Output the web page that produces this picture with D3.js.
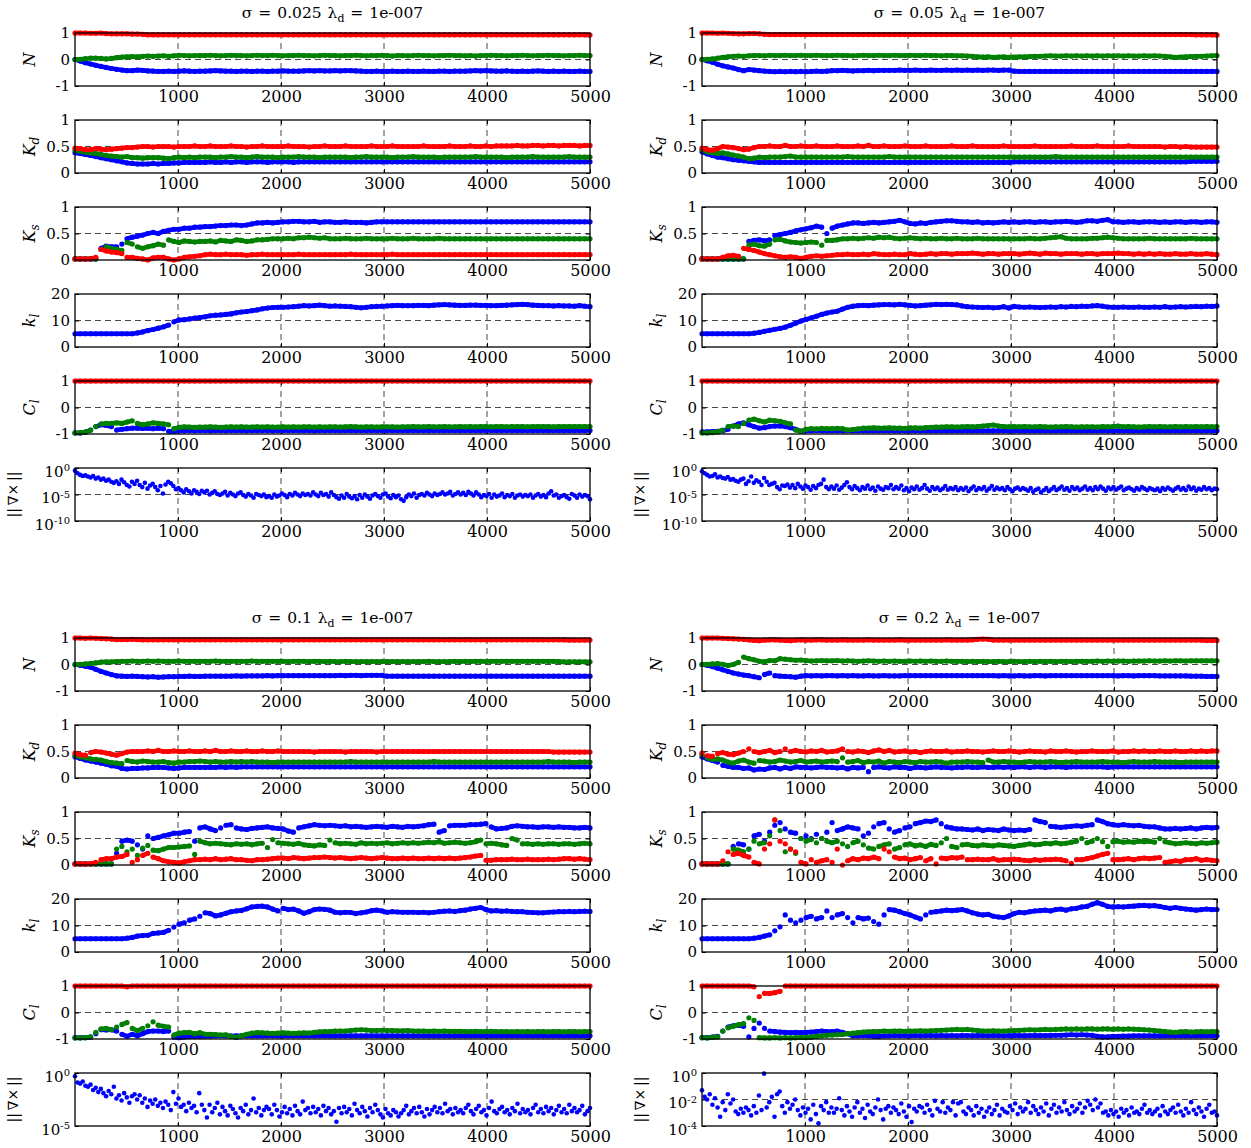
<!DOCTYPE html>
<html>
<head>
<meta charset="utf-8">
<script src="https://cdn.jsdelivr.net/npm/d3@7"></script>
<style>
  body { margin: 0; background: #fff; }
  text { font-family: "DejaVu Serif", serif; fill: #000; }
</style>
</head>
<body>
<svg id="chart" width="1251" height="1148"></svg>
<script>
// iterations at which the estimates were recorded
const iterations = d3.range(100).map(i => Math.round(i * 5000 / 99));
const gradIterations = d3.range(200).map(i => Math.round(i * 5000 / 199));
const xTicks = [1000, 2000, 3000, 4000, 5000];
const sigmas = ["0.025", "0.05", "0.1", "0.2"];

// ---------- sigma = 0.025 ----------
const nRedA = [1,1,1,0.99,0.99,1,0.98,0.97,0.97,0.97,0.97,0.96,0.96,0.95,0.93,0.93,0.93,0.93,0.93,0.93,0.93,0.93,0.93,0.93,0.93,
  0.93,0.93,0.93,0.93,0.93,0.93,0.93,0.93,0.93,0.93,0.93,0.93,0.93,0.93,0.93,0.93,0.93,0.93,0.93,0.93,0.93,0.93,0.93,0.93,0.93,
  0.93,0.93,0.93,0.93,0.93,0.93,0.93,0.93,0.93,0.93,0.93,0.93,0.93,0.93,0.93,0.93,0.93,0.93,0.93,0.93,0.93,0.93,0.93,0.93,0.93,
  0.93,0.93,0.93,0.93,0.93,0.93,0.93,0.93,0.93,0.93,0.93,0.93,0.93,0.93,0.93,0.93,0.93,0.93,0.93,0.93,0.93,0.93,0.93,0.93,0.92];
const nGreenA = [0,0.01,0.03,0.05,0.05,0.04,0.02,0.04,0.07,0.09,0.1,0.11,0.1,0.12,0.13,0.12,0.13,0.14,0.12,0.14,0.16,0.15,0.14,0.15,0.15,
  0.15,0.16,0.15,0.14,0.15,0.16,0.15,0.15,0.14,0.15,0.16,0.15,0.15,0.16,0.15,0.14,0.15,0.15,0.16,0.15,0.15,0.14,0.15,0.16,0.15,
  0.15,0.14,0.15,0.15,0.16,0.15,0.14,0.15,0.15,0.16,0.15,0.13,0.15,0.15,0.14,0.15,0.16,0.15,0.15,0.14,0.15,0.15,0.16,0.15,0.15,
  0.14,0.15,0.13,0.15,0.15,0.16,0.15,0.15,0.14,0.15,0.15,0.16,0.15,0.14,0.15,0.15,0.16,0.15,0.15,0.14,0.15,0.15,0.16,0.15,0.15];
const nBlueA = [0,-0.06,-0.12,-0.17,-0.22,-0.26,-0.3,-0.34,-0.37,-0.4,-0.42,-0.42,-0.4,-0.41,-0.43,-0.44,-0.45,-0.45,-0.44,-0.45,-0.44,-0.43,-0.44,-0.45,-0.44,
  -0.44,-0.43,-0.42,-0.43,-0.44,-0.44,-0.45,-0.44,-0.44,-0.45,-0.44,-0.44,-0.45,-0.44,-0.44,-0.43,-0.44,-0.44,-0.44,-0.43,-0.42,-0.43,-0.42,-0.43,-0.43,
  -0.42,-0.43,-0.42,-0.42,-0.43,-0.44,-0.45,-0.45,-0.44,-0.45,-0.45,-0.44,-0.45,-0.45,-0.44,-0.45,-0.45,-0.44,-0.45,-0.45,-0.44,-0.44,-0.45,-0.44,-0.44,
  -0.44,-0.43,-0.42,-0.43,-0.42,-0.43,-0.44,-0.44,-0.43,-0.44,-0.45,-0.44,-0.45,-0.44,-0.43,-0.44,-0.45,-0.44,-0.45,-0.44,-0.45,-0.45,-0.44,-0.45,-0.45];
const kdRedA = [0.47,0.46,0.44,0.44,0.46,0.45,0.44,0.45,0.46,0.47,0.48,0.48,0.49,0.5,0.5,0.49,0.5,0.5,0.5,0.49,0.5,0.5,0.5,0.51,0.5,
  0.5,0.51,0.5,0.5,0.5,0.51,0.5,0.5,0.49,0.5,0.5,0.51,0.5,0.5,0.5,0.5,0.51,0.5,0.5,0.5,0.49,0.5,0.5,0.51,0.5,
  0.5,0.5,0.51,0.5,0.5,0.5,0.5,0.51,0.5,0.5,0.5,0.51,0.5,0.5,0.5,0.5,0.5,0.51,0.5,0.5,0.5,0.5,0.51,0.5,0.5,
  0.5,0.51,0.5,0.5,0.51,0.5,0.51,0.51,0.51,0.51,0.52,0.51,0.51,0.52,0.52,0.51,0.52,0.52,0.51,0.52,0.52,0.52,0.51,0.52,0.52];
const kdGreenA = [0.43,0.41,0.39,0.38,0.37,0.35,0.33,0.32,0.31,0.3,0.31,0.29,0.29,0.28,0.29,0.29,0.29,0.28,0.27,0.29,0.3,0.29,0.3,0.29,0.3,
  0.3,0.3,0.29,0.3,0.3,0.31,0.3,0.3,0.29,0.3,0.31,0.3,0.3,0.3,0.29,0.3,0.3,0.3,0.31,0.3,0.3,0.3,0.29,0.3,0.3,
  0.3,0.3,0.3,0.29,0.3,0.3,0.31,0.3,0.3,0.3,0.3,0.29,0.3,0.3,0.3,0.31,0.3,0.3,0.3,0.3,0.29,0.3,0.3,0.3,0.3,
  0.3,0.3,0.31,0.3,0.3,0.3,0.3,0.3,0.29,0.3,0.3,0.3,0.3,0.31,0.3,0.3,0.3,0.3,0.3,0.3,0.31,0.3,0.3,0.3,0.3];
const kdBlueA = [0.38,0.37,0.35,0.33,0.31,0.29,0.27,0.25,0.23,0.21,0.19,0.18,0.17,0.17,0.17,0.18,0.17,0.18,0.18,0.19,0.19,0.2,0.2,0.2,0.2,
  0.2,0.21,0.2,0.2,0.21,0.2,0.21,0.21,0.2,0.21,0.21,0.21,0.2,0.21,0.21,0.21,0.21,0.2,0.21,0.21,0.21,0.21,0.21,0.21,0.21,
  0.21,0.21,0.21,0.21,0.21,0.21,0.21,0.21,0.21,0.21,0.21,0.21,0.21,0.21,0.21,0.21,0.21,0.21,0.21,0.21,0.21,0.21,0.21,0.21,0.21,
  0.21,0.21,0.21,0.21,0.21,0.21,0.21,0.21,0.21,0.21,0.21,0.21,0.21,0.21,0.21,0.21,0.21,0.21,0.21,0.21,0.21,0.21,0.21,0.21,0.21];
const ksRedA = [0.02,0.02,0.02,0.02,0.05,0.2,0.17,0.15,0.14,0.12,0.05,0.05,0.03,0.02,0,0.04,0.05,0.05,0.02,0,0.02,0.05,0.06,0.07,0.08,
  0.1,0.11,0.1,0.1,0.11,0.1,0.1,0.1,0.09,0.1,0.1,0.11,0.1,0.1,0.1,0.1,0.1,0.1,0.11,0.1,0.1,0.1,0.1,0.1,0.1,
  0.1,0.1,0.1,0.11,0.1,0.1,0.1,0.1,0.1,0.1,0.1,0.11,0.1,0.1,0.1,0.1,0.1,0.1,0.1,0.1,0.1,0.1,0.1,0.1,0.1,
  0.1,0.1,0.1,0.1,0.1,0.1,0.1,0.1,0.1,0.1,0.1,0.1,0.1,0.1,0.1,0.1,0.1,0.1,0.1,0.1,0.1,0.1,0.1,0.1,0.1];
const ksGreenA = [0.02,0.02,0.02,0.02,0.02,0.2,0.25,0.22,0.2,0.18,0.33,0.3,0.25,0.22,0.25,0.27,0.3,0.28,0.38,0.35,0.33,0.36,0.35,0.34,0.35,
  0.35,0.36,0.34,0.37,0.36,0.35,0.38,0.37,0.35,0.36,0.38,0.38,0.39,0.4,0.4,0.4,0.41,0.4,0.42,0.42,0.43,0.42,0.41,0.42,0.4,
  0.4,0.4,0.41,0.4,0.4,0.4,0.41,0.4,0.4,0.4,0.4,0.41,0.4,0.4,0.4,0.41,0.4,0.4,0.4,0.4,0.41,0.4,0.4,0.4,0.4,
  0.4,0.4,0.4,0.4,0.4,0.4,0.4,0.4,0.4,0.4,0.4,0.4,0.4,0.4,0.4,0.4,0.4,0.4,0.4,0.4,0.4,0.4,0.4,0.4,0.4];
const ksBlueA = [0.02,0.02,0.02,0.02,0.02,0.22,0.26,0.25,0.25,0.3,0.4,0.43,0.45,0.47,0.5,0.52,0.5,0.54,0.56,0.58,0.58,0.6,0.6,0.62,0.62,
  0.63,0.63,0.64,0.65,0.65,0.66,0.66,0.65,0.66,0.68,0.7,0.7,0.71,0.7,0.71,0.72,0.72,0.73,0.73,0.72,0.72,0.73,0.71,0.72,0.72,
  0.71,0.71,0.72,0.71,0.71,0.71,0.7,0.71,0.72,0.72,0.72,0.72,0.72,0.72,0.72,0.72,0.72,0.72,0.72,0.72,0.72,0.72,0.72,0.72,0.72,
  0.72,0.72,0.72,0.72,0.72,0.72,0.72,0.72,0.72,0.72,0.72,0.72,0.72,0.72,0.72,0.72,0.72,0.72,0.72,0.72,0.72,0.72,0.72,0.72,0.72];
const klA = [5,5,5,5,5,5,5,5,5,5,5,5,5.3,5.7,6.2,6.6,7.1,7.6,8.3,9.5,10.2,10.3,10.6,10.9,11.1,
  11.4,11.8,12,12.1,12.3,12.5,12.9,13.2,13.4,13.7,14,14.4,14.7,14.9,15,15,15.1,15.2,15.4,15.6,15.5,15.6,15.8,15.6,15.4,
  15.5,15.4,15.3,15.2,15,14.8,15,15.2,15.3,15.4,15.5,15.6,15.7,15.6,15.6,15.6,15.7,15.7,15.6,15.8,15.9,16,15.9,15.8,15.7,
  15.7,15.8,15.8,15.7,15.7,15.6,15.6,15.7,15.8,15.9,16,16.1,16,15.8,15.7,15.6,15.6,15.5,15.6,15.5,15.5,15.4,15.6,15.4,15.2];
const clRedA = [1,1,1,1,1,1,1,1,1,1,1,1,1,1,1,1,1,1,1,1,1,1,1,1,1,
  1,1,1,1,1,1,1,1,1,1,1,1,1,1,1,1,1,1,1,1,1,1,1,1,1,
  1,1,1,1,1,1,1,1,1,1,1,1,1,1,1,1,1,1,1,1,1,1,1,1,1,
  1,1,1,1,1,1,1,1,1,1,1,1,1,1,1,1,1,1,1,1,1,1,1,1,1];
const clGreenA = [-0.96,-0.95,-0.93,-0.85,-0.72,-0.62,-0.6,-0.6,-0.58,-0.6,-0.55,-0.5,-0.6,-0.65,-0.62,-0.58,-0.6,-0.62,-0.65,-0.8,-0.75,-0.73,-0.74,-0.75,-0.74,
  -0.74,-0.73,-0.74,-0.75,-0.74,-0.73,-0.74,-0.73,-0.74,-0.74,-0.73,-0.74,-0.73,-0.74,-0.74,-0.73,-0.74,-0.73,-0.74,-0.73,-0.73,-0.74,-0.73,-0.74,-0.73,
  -0.73,-0.74,-0.73,-0.72,-0.73,-0.74,-0.73,-0.73,-0.74,-0.73,-0.73,-0.73,-0.74,-0.73,-0.73,-0.72,-0.73,-0.73,-0.72,-0.73,-0.73,-0.72,-0.73,-0.73,-0.72,
  -0.73,-0.72,-0.73,-0.72,-0.72,-0.73,-0.72,-0.72,-0.73,-0.72,-0.72,-0.72,-0.73,-0.72,-0.72,-0.72,-0.72,-0.73,-0.72,-0.72,-0.72,-0.72,-0.72,-0.72,-0.72];
const clBlueA = [-0.96,-0.96,-0.93,-0.85,-0.72,-0.65,-0.68,-0.72,-0.85,-0.82,-0.8,-0.78,-0.78,-0.79,-0.78,-0.8,-0.78,-0.8,-0.9,-0.9,-0.88,-0.88,-0.87,-0.88,-0.87,
  -0.87,-0.88,-0.87,-0.87,-0.88,-0.87,-0.87,-0.87,-0.88,-0.87,-0.87,-0.87,-0.87,-0.88,-0.87,-0.87,-0.87,-0.87,-0.87,-0.87,-0.87,-0.88,-0.87,-0.87,-0.87,
  -0.87,-0.87,-0.87,-0.87,-0.87,-0.87,-0.87,-0.87,-0.87,-0.87,-0.87,-0.87,-0.87,-0.87,-0.87,-0.87,-0.87,-0.87,-0.87,-0.87,-0.87,-0.87,-0.87,-0.87,-0.87,
  -0.87,-0.87,-0.87,-0.87,-0.87,-0.87,-0.87,-0.87,-0.87,-0.87,-0.87,-0.87,-0.87,-0.87,-0.87,-0.87,-0.87,-0.87,-0.87,-0.87,-0.87,-0.87,-0.87,-0.87,-0.87];
// log10 of the gradient norm
const gradExpA = [-0.5,-1,-1.3,-1.5,-1.4,-1.6,-1.8,-1.5,-2,-1.8,-2.2,-2,-2.4,-2.2,-2.6,-2.8,-2.5,-3,-2.2,-2.7,-3.2,-3.5,-2.6,-3,-2.4,
  -3.2,-3.6,-2.8,-3.9,-3.3,-3,-3.6,-4.2,-3.4,-4.8,-3.1,-2.6,-2.9,-3.4,-4,-3.8,-4.2,-4.6,-4,-4.4,-4.8,-4.2,-4.5,-4.9,-4.3,
  -4.6,-4.3,-5,-4.7,-4.4,-4.9,-5.1,-4.8,-4.5,-5.2,-4.7,-5,-5.3,-4.8,-4.6,-5.1,-5.4,-4.9,-5.2,-5.6,-4.9,-5.1,-5.3,-5,-5.5,
  -5.3,-5.6,-5,-5.4,-5.2,-4.8,-5.1,-5.5,-4.9,-5.2,-4.7,-5,-5.3,-4.8,-5.1,-4.9,-5.2,-4.6,-5,-5.3,-4.7,-5.1,-4.9,-5.4,-4.6,
  -5.1,-5.5,-5.8,-5.2,-5.6,-4.9,-5.4,-5.7,-5.3,-5.9,-5.1,-5.6,-5,-5.4,-5.8,-5.2,-4.9,-5.3,-5.6,-5,-4.8,-5.4,-5.7,-5.1,-5.5,
  -5.2,-5.9,-6.2,-5.5,-5,-5.3,-4.8,-5.6,-5.1,-4.9,-5.2,-4.7,-5,-5.3,-4.8,-5.1,-4.9,-4.6,-5,-4.8,-4.5,-5.2,-4.9,-4.6,-5,
  -4.7,-5.1,-4.5,-4.8,-5.2,-4.6,-5,-5.5,-5.1,-5.3,-4.9,-5.6,-5,-5.4,-5.2,-4.8,-5.5,-5.1,-5.3,-4.9,-5.6,-5.2,-5,-5.4,-5.1,
  -5.3,-5,-5.6,-5.2,-4.9,-5.4,-5.1,-5.5,-4.8,-4.4,-5.2,-5,-5.6,-5.3,-5.1,-5.5,-5.8,-4.9,-5.2,-5.6,-5,-5.4,-5.1,-5.3,-5.9];

// ---------- sigma = 0.05 ----------
const nRedB = [1,1,1,0.99,1,0.99,0.98,0.97,0.97,0.98,0.98,0.97,0.95,0.94,0.94,0.94,0.94,0.94,0.94,0.94,0.94,0.94,0.94,0.94,0.94,
  0.94,0.94,0.94,0.94,0.94,0.94,0.94,0.94,0.94,0.94,0.94,0.94,0.94,0.94,0.94,0.94,0.94,0.94,0.94,0.94,0.94,0.94,0.94,0.94,0.94,
  0.94,0.94,0.94,0.94,0.94,0.94,0.94,0.94,0.94,0.94,0.94,0.94,0.94,0.94,0.94,0.94,0.94,0.94,0.94,0.94,0.94,0.94,0.94,0.94,0.94,
  0.94,0.94,0.94,0.94,0.94,0.94,0.94,0.94,0.94,0.94,0.94,0.94,0.94,0.94,0.94,0.94,0.94,0.94,0.94,0.94,0.93,0.93,0.93,0.93,0.92];
const nGreenB = [0,0.01,0.02,0.05,0.08,0.1,0.12,0.13,0.12,0.14,0.15,0.15,0.14,0.16,0.15,0.15,0.16,0.15,0.15,0.16,0.15,0.15,0.16,0.15,0.15,
  0.15,0.16,0.15,0.15,0.14,0.15,0.16,0.15,0.15,0.16,0.15,0.15,0.16,0.15,0.15,0.16,0.15,0.15,0.16,0.15,0.15,0.14,0.15,0.15,0.14,
  0.14,0.13,0.12,0.1,0.09,0.1,0.08,0.09,0.1,0.08,0.09,0.1,0.1,0.11,0.12,0.12,0.13,0.14,0.13,0.13,0.14,0.13,0.14,0.13,0.14,
  0.13,0.14,0.13,0.14,0.13,0.14,0.13,0.14,0.13,0.13,0.14,0.13,0.14,0.13,0.12,0.1,0.08,0.09,0.1,0.11,0.12,0.12,0.13,0.14,0.15];
const nBlueB = [0,-0.05,-0.1,-0.18,-0.24,-0.28,-0.32,-0.38,-0.42,-0.38,-0.4,-0.42,-0.44,-0.45,-0.46,-0.45,-0.46,-0.45,-0.46,-0.45,-0.46,-0.45,-0.44,-0.45,-0.44,
  -0.42,-0.42,-0.41,-0.42,-0.43,-0.42,-0.42,-0.41,-0.42,-0.41,-0.41,-0.41,-0.41,-0.4,-0.41,-0.41,-0.4,-0.41,-0.41,-0.4,-0.41,-0.41,-0.4,-0.41,-0.4,
  -0.41,-0.4,-0.41,-0.4,-0.41,-0.4,-0.4,-0.41,-0.4,-0.4,-0.44,-0.45,-0.45,-0.45,-0.45,-0.45,-0.45,-0.45,-0.45,-0.45,-0.45,-0.45,-0.45,-0.45,-0.45,
  -0.45,-0.45,-0.45,-0.45,-0.45,-0.45,-0.45,-0.45,-0.45,-0.45,-0.45,-0.45,-0.45,-0.45,-0.45,-0.45,-0.45,-0.45,-0.45,-0.45,-0.45,-0.45,-0.45,-0.45,-0.45];
const kdRedB = [0.47,0.44,0.43,0.46,0.5,0.49,0.48,0.46,0.44,0.45,0.48,0.5,0.5,0.51,0.5,0.5,0.52,0.5,0.5,0.51,0.5,0.5,0.51,0.5,0.5,
  0.5,0.51,0.5,0.5,0.5,0.51,0.5,0.52,0.5,0.5,0.51,0.5,0.5,0.5,0.51,0.5,0.5,0.5,0.51,0.5,0.5,0.5,0.5,0.51,0.5,
  0.5,0.5,0.51,0.5,0.5,0.5,0.5,0.5,0.51,0.5,0.5,0.5,0.5,0.5,0.51,0.5,0.5,0.5,0.5,0.5,0.5,0.51,0.5,0.5,0.5,
  0.5,0.51,0.5,0.5,0.5,0.5,0.5,0.51,0.5,0.5,0.5,0.5,0.5,0.5,0.49,0.5,0.5,0.49,0.5,0.49,0.49,0.49,0.49,0.49,0.49];
const kdGreenB = [0.44,0.4,0.38,0.37,0.38,0.36,0.34,0.32,0.3,0.27,0.28,0.3,0.29,0.3,0.3,0.3,0.31,0.32,0.3,0.3,0.3,0.3,0.3,0.3,0.3,
  0.3,0.3,0.3,0.31,0.3,0.3,0.3,0.3,0.3,0.3,0.3,0.31,0.3,0.3,0.3,0.3,0.3,0.3,0.3,0.3,0.3,0.3,0.3,0.3,0.3,
  0.3,0.3,0.3,0.3,0.3,0.3,0.3,0.3,0.3,0.3,0.3,0.3,0.3,0.3,0.3,0.3,0.3,0.3,0.31,0.3,0.3,0.3,0.3,0.3,0.3,
  0.3,0.3,0.3,0.3,0.3,0.3,0.3,0.3,0.3,0.3,0.3,0.3,0.3,0.3,0.3,0.3,0.3,0.3,0.3,0.3,0.3,0.3,0.3,0.3,0.3];
const kdBlueB = [0.4,0.36,0.33,0.3,0.29,0.27,0.25,0.24,0.23,0.22,0.21,0.2,0.2,0.2,0.2,0.2,0.2,0.2,0.2,0.2,0.2,0.2,0.2,0.2,0.2,
  0.2,0.2,0.2,0.2,0.2,0.2,0.2,0.2,0.2,0.2,0.2,0.2,0.2,0.2,0.2,0.2,0.2,0.2,0.2,0.2,0.2,0.2,0.2,0.2,0.2,
  0.2,0.2,0.2,0.2,0.2,0.2,0.2,0.2,0.2,0.2,0.21,0.21,0.21,0.21,0.21,0.21,0.21,0.21,0.21,0.21,0.21,0.21,0.21,0.21,0.21,
  0.21,0.21,0.21,0.21,0.21,0.21,0.21,0.21,0.21,0.21,0.21,0.21,0.21,0.21,0.21,0.21,0.21,0.21,0.21,0.22,0.22,0.22,0.22,0.22,0.22];
const ksRedB = [0.02,0.02,0.02,0.02,0.05,0.08,0.09,0.07,0.22,0.2,0.18,0.15,0.12,0.1,0.08,0.06,0.05,0.06,0.05,0.03,0.05,0.07,0.08,0.07,0.08,
  0.09,0.1,0.1,0.11,0.1,0.1,0.11,0.1,0.12,0.11,0.1,0.1,0.11,0.1,0.1,0.12,0.11,0.1,0.11,0.12,0.11,0.12,0.12,0.11,0.12,
  0.12,0.12,0.13,0.12,0.11,0.12,0.12,0.11,0.12,0.12,0.12,0.11,0.12,0.13,0.12,0.11,0.13,0.12,0.12,0.11,0.12,0.12,0.12,0.11,0.12,
  0.12,0.11,0.12,0.12,0.12,0.13,0.12,0.12,0.11,0.12,0.11,0.12,0.11,0.12,0.11,0.11,0.12,0.11,0.11,0.12,0.11,0.11,0.12,0.11,0.1];
const ksGreenB = [0.02,0.02,0.02,0.02,0.02,0.02,0.02,0.02,0.02,0.28,0.3,0.27,0.26,0.3,0.38,0.39,0.36,0.34,0.33,0.32,0.33,0.34,0.33,0.28,0.37,
  0.37,0.38,0.4,0.4,0.41,0.4,0.41,0.42,0.41,0.43,0.42,0.43,0.41,0.4,0.41,0.42,0.41,0.4,0.41,0.4,0.4,0.41,0.4,0.4,0.41,
  0.4,0.4,0.4,0.41,0.4,0.4,0.4,0.4,0.4,0.4,0.4,0.4,0.4,0.41,0.4,0.4,0.41,0.42,0.43,0.44,0.41,0.4,0.4,0.4,0.4,
  0.41,0.41,0.42,0.43,0.42,0.41,0.4,0.4,0.4,0.4,0.4,0.41,0.4,0.4,0.4,0.4,0.4,0.4,0.4,0.41,0.4,0.4,0.4,0.4,0.4];
const ksBlueB = [0.02,0.02,0.02,0.02,0.02,0.02,0.02,0.02,0.02,0.35,0.37,0.38,0.36,0.38,0.46,0.48,0.5,0.52,0.55,0.57,0.59,0.61,0.64,0.62,0.5,
  0.6,0.64,0.66,0.68,0.7,0.7,0.69,0.7,0.71,0.7,0.71,0.72,0.73,0.75,0.72,0.69,0.68,0.7,0.69,0.71,0.72,0.73,0.74,0.74,0.73,
  0.72,0.72,0.71,0.72,0.7,0.71,0.7,0.71,0.72,0.71,0.72,0.71,0.72,0.72,0.71,0.72,0.72,0.71,0.72,0.72,0.73,0.72,0.71,0.72,0.74,
  0.74,0.73,0.75,0.76,0.72,0.72,0.71,0.72,0.72,0.71,0.72,0.72,0.72,0.71,0.72,0.71,0.72,0.72,0.71,0.72,0.72,0.71,0.72,0.72,0.71];
const klB = [5,5,5,5,5,5,5,5,5,5,5.2,5.5,5.9,6.3,6.7,7,7.5,8.2,9,9.8,10.4,11,11.6,12.3,12.8,
  13.2,13.5,14.3,15,15.4,15.6,15.7,15.6,15.8,15.9,16,16,15.9,16.1,15.9,15.7,15.5,15.6,15.8,15.9,16.1,16,16.1,16,15.9,
  15.5,15.2,15.1,15,14.9,15,14.8,14.9,15.2,14.7,15.3,15.1,15,15.1,15,14.9,15,15.1,15,15.2,15.1,15.3,15.2,15.4,15.3,
  15.5,15.6,15.4,15.1,15,15,15.1,15,15,15.1,15,15,15.1,15,15.2,15,15.1,15.2,15.1,15.2,15.3,15.2,15.4,15.3,15.5];
const clRedB = [1,1,1,1,1,1,1,1,1,1,1,1,1,1,1,1,1,1,1,1,1,1,1,1,1,
  1,1,1,1,1,1,1,1,1,1,1,1,1,1,1,1,1,1,1,1,1,1,1,1,1,
  1,1,1,1,1,1,1,1,1,1,1,1,1,1,1,1,1,1,1,1,1,1,1,1,1,
  1,1,1,1,1,1,1,1,1,1,1,1,1,1,1,1,1,1,1,1,1,1,1,1,1];
const clGreenB = [-0.96,-0.96,-0.95,-0.92,-0.85,-0.72,-0.7,-0.72,-0.6,-0.48,-0.44,-0.5,-0.55,-0.48,-0.5,-0.52,-0.58,-0.62,-0.85,-0.9,-0.82,-0.8,-0.81,-0.79,-0.8,
  -0.8,-0.79,-0.8,-0.85,-0.83,-0.81,-0.78,-0.78,-0.77,-0.78,-0.78,-0.77,-0.78,-0.78,-0.79,-0.77,-0.77,-0.78,-0.76,-0.75,-0.74,-0.74,-0.73,-0.73,-0.74,
  -0.73,-0.72,-0.73,-0.72,-0.7,-0.68,-0.66,-0.7,-0.72,-0.73,-0.72,-0.73,-0.72,-0.73,-0.73,-0.72,-0.73,-0.74,-0.73,-0.73,-0.72,-0.73,-0.74,-0.73,-0.73,
  -0.73,-0.74,-0.72,-0.73,-0.72,-0.7,-0.73,-0.72,-0.73,-0.74,-0.73,-0.72,-0.73,-0.72,-0.73,-0.73,-0.72,-0.73,-0.72,-0.73,-0.72,-0.73,-0.72,-0.73,-0.72];
const clBlueB = [-0.92,-0.92,-0.91,-0.9,-0.88,-0.82,-0.7,-0.62,-0.58,-0.65,-0.72,-0.78,-0.76,-0.72,-0.7,-0.7,-0.72,-0.76,-0.82,-0.9,-0.88,-0.88,-0.87,-0.88,-0.88,
  -0.88,-0.88,-0.88,-0.88,-0.88,-0.88,-0.88,-0.88,-0.88,-0.88,-0.88,-0.88,-0.88,-0.88,-0.88,-0.88,-0.88,-0.88,-0.88,-0.88,-0.88,-0.88,-0.88,-0.88,-0.88,
  -0.88,-0.88,-0.88,-0.88,-0.88,-0.88,-0.88,-0.88,-0.88,-0.88,-0.88,-0.88,-0.88,-0.88,-0.88,-0.88,-0.88,-0.88,-0.88,-0.88,-0.88,-0.88,-0.88,-0.88,-0.88,
  -0.88,-0.88,-0.88,-0.88,-0.88,-0.88,-0.88,-0.88,-0.88,-0.88,-0.88,-0.88,-0.88,-0.88,-0.88,-0.88,-0.88,-0.88,-0.88,-0.88,-0.88,-0.88,-0.88,-0.88,-0.88];
const gradExpB = [-0.6,-1,-1.3,-1.6,-1.5,-1.2,-1.8,-1.6,-1.9,-2,-1.7,-2.2,-2.1,-2.4,-2.6,-2.2,-2,-3,-2.5,-1.6,-2.8,-2.3,-2.6,-3.2,-1.9,
  -2.6,-3.2,-3,-2.8,-3.6,-4,-3.3,-3.4,-3.1,-3.7,-3.2,-3.8,-3,-3.5,-3.9,-3.3,-3.6,-4.1,-3.4,-3.8,-3.2,-3,-2.2,-3.6,-4,
  -3.5,-3.9,-3.3,-4.1,-3.7,-3.2,-2.7,-3.6,-4,-3.4,-3.8,-4.2,-3.6,-3.9,-3.3,-4,-3.7,-4.3,-3.5,-3.9,-4.1,-3.6,-3.8,-3.2,-4,
  -3.6,-3.9,-3.3,-4.2,-3.8,-4.4,-3.7,-4,-3.5,-4.1,-3.8,-3.2,-3.9,-4.3,-3.6,-4,-3.7,-4.2,-3.9,-3.4,-4.1,-3.8,-4,-3.6,-4.2,
  -3.8,-4.1,-3.7,-4.4,-3.9,-3.5,-4.2,-3.8,-4,-3.6,-4.3,-3.9,-3.4,-4.1,-3.7,-4,-3.8,-4.2,-3.6,-4,-4.4,-3.9,-3.7,-4.1,-3.8,
  -4,-4.3,-3.8,-4.5,-4.1,-3.9,-4.6,-4.2,-3.8,-4.4,-4,-3.6,-4.2,-3.9,-3.5,-4.1,-3.8,-4.3,-3.6,-4,-3.7,-4.2,-3.9,-3.5,-4.1,
  -3.8,-4.2,-3.6,-4,-3.5,-3.9,-4.3,-3.7,-4,-3.6,-4.1,-3.8,-3.5,-4.2,-3.9,-3.7,-4,-4.3,-3.8,-4.1,-3.6,-3.9,-4.2,-3.8,-4,
  -4.2,-3.9,-4.4,-3.8,-4.1,-3.7,-4,-4.3,-3.9,-3.6,-4.1,-3.8,-4.2,-3.5,-4,-3.7,-4.3,-3.9,-4.1,-3.6,-4,-3.8,-4.2,-3.9,-4];

// ---------- sigma = 0.1 ----------
const nRedC = [1,1,0.99,1,0.99,0.98,0.97,0.96,0.94,0.94,0.94,0.95,0.94,0.93,0.93,0.93,0.93,0.93,0.93,0.93,0.93,0.93,0.93,0.93,0.93,
  0.93,0.93,0.93,0.93,0.93,0.93,0.93,0.93,0.93,0.93,0.93,0.93,0.93,0.93,0.93,0.93,0.93,0.93,0.93,0.93,0.93,0.93,0.93,0.93,0.93,
  0.93,0.93,0.93,0.93,0.93,0.93,0.93,0.93,0.93,0.93,0.93,0.93,0.93,0.93,0.93,0.93,0.93,0.93,0.93,0.93,0.93,0.93,0.93,0.93,0.93,
  0.93,0.93,0.93,0.93,0.93,0.93,0.93,0.93,0.93,0.93,0.93,0.93,0.93,0.93,0.93,0.93,0.93,0.93,0.93,0.93,0.92,0.92,0.92,0.92,0.92];
const nGreenC = [0,0.01,0.02,0.04,0.06,0.09,0.1,0.1,0.11,0.12,0.12,0.13,0.12,0.12,0.13,0.12,0.13,0.12,0.12,0.12,0.13,0.12,0.12,0.12,0.12,
  0.12,0.12,0.13,0.12,0.12,0.12,0.12,0.12,0.12,0.13,0.12,0.12,0.12,0.12,0.12,0.12,0.11,0.12,0.12,0.12,0.11,0.12,0.12,0.11,0.12,
  0.11,0.11,0.12,0.11,0.11,0.11,0.11,0.11,0.11,0.11,0.11,0.11,0.11,0.11,0.11,0.11,0.11,0.11,0.12,0.11,0.11,0.11,0.11,0.12,0.11,
  0.12,0.11,0.12,0.12,0.11,0.12,0.12,0.12,0.12,0.12,0.12,0.12,0.12,0.12,0.12,0.12,0.12,0.12,0.11,0.1,0.1,0.1,0.1,0.1,0.1];
const nBlueC = [0,-0.03,-0.07,-0.1,-0.18,-0.26,-0.32,-0.38,-0.43,-0.44,-0.45,-0.44,-0.45,-0.46,-0.47,-0.46,-0.48,-0.47,-0.46,-0.46,-0.45,-0.45,-0.44,-0.45,-0.45,
  -0.44,-0.44,-0.44,-0.44,-0.44,-0.44,-0.43,-0.44,-0.43,-0.43,-0.43,-0.43,-0.42,-0.43,-0.42,-0.42,-0.42,-0.42,-0.42,-0.42,-0.42,-0.42,-0.42,-0.42,-0.42,
  -0.42,-0.41,-0.42,-0.41,-0.41,-0.42,-0.41,-0.41,-0.41,-0.41,-0.44,-0.44,-0.44,-0.44,-0.44,-0.44,-0.44,-0.44,-0.44,-0.44,-0.44,-0.44,-0.44,-0.44,-0.44,
  -0.44,-0.44,-0.44,-0.44,-0.44,-0.44,-0.44,-0.44,-0.44,-0.44,-0.44,-0.44,-0.44,-0.44,-0.44,-0.44,-0.44,-0.44,-0.44,-0.44,-0.44,-0.44,-0.44,-0.44,-0.44];
const kdRedC = [0.47,0.44,0.43,0.48,0.5,0.49,0.47,0.45,0.43,0.46,0.49,0.5,0.5,0.5,0.51,0.5,0.52,0.5,0.5,0.51,0.5,0.5,0.51,0.5,0.5,
  0.51,0.5,0.52,0.5,0.5,0.51,0.5,0.5,0.51,0.5,0.5,0.51,0.5,0.5,0.51,0.5,0.5,0.5,0.5,0.5,0.5,0.49,0.5,0.5,0.5,
  0.5,0.5,0.49,0.5,0.5,0.5,0.5,0.5,0.49,0.5,0.5,0.5,0.5,0.5,0.5,0.5,0.5,0.5,0.5,0.5,0.5,0.5,0.5,0.5,0.5,
  0.5,0.5,0.5,0.5,0.5,0.5,0.5,0.5,0.5,0.5,0.5,0.5,0.5,0.5,0.5,0.5,0.5,0.49,0.49,0.49,0.49,0.49,0.49,0.49,0.49];
const kdGreenC = [0.43,0.4,0.38,0.36,0.35,0.34,0.31,0.29,0.28,0.27,0.33,0.31,0.3,0.32,0.31,0.3,0.3,0.31,0.29,0.28,0.3,0.3,0.31,0.31,0.32,
  0.31,0.3,0.31,0.3,0.3,0.31,0.3,0.31,0.3,0.31,0.3,0.3,0.3,0.29,0.3,0.3,0.3,0.3,0.3,0.3,0.3,0.3,0.3,0.3,0.3,
  0.3,0.3,0.3,0.31,0.3,0.3,0.3,0.3,0.3,0.3,0.3,0.3,0.3,0.3,0.3,0.3,0.3,0.3,0.3,0.31,0.3,0.3,0.3,0.3,0.3,
  0.3,0.3,0.3,0.3,0.3,0.3,0.3,0.3,0.3,0.3,0.3,0.3,0.3,0.3,0.3,0.3,0.31,0.3,0.3,0.3,0.3,0.29,0.3,0.3,0.3];
const kdBlueC = [0.4,0.37,0.34,0.32,0.3,0.28,0.26,0.23,0.22,0.18,0.17,0.18,0.18,0.19,0.19,0.2,0.2,0.2,0.19,0.18,0.19,0.2,0.2,0.2,0.2,
  0.2,0.2,0.2,0.21,0.2,0.21,0.2,0.21,0.21,0.21,0.21,0.21,0.21,0.21,0.21,0.21,0.21,0.21,0.21,0.21,0.21,0.21,0.21,0.21,0.21,
  0.21,0.21,0.21,0.21,0.21,0.21,0.21,0.21,0.21,0.21,0.21,0.21,0.21,0.21,0.21,0.21,0.21,0.21,0.21,0.21,0.21,0.21,0.21,0.21,0.21,
  0.21,0.21,0.21,0.21,0.21,0.21,0.21,0.21,0.21,0.21,0.21,0.21,0.21,0.21,0.21,0.21,0.21,0.21,0.21,0.21,0.21,0.21,0.21,0.21,0.21];
const ksRedC = [0.02,0.02,0.02,0.02,0.05,0.1,0.12,0.12,0.15,0.16,0.2,0.05,0.1,0.18,0.22,0.15,0.12,0.08,0.06,0.05,0.04,0.06,0.08,0.1,0.1,
  0.11,0.1,0.12,0.1,0.11,0.12,0.1,0.1,0.09,0.08,0.1,0.1,0.11,0.12,0.13,0.13,0.12,0.14,0.13,0.12,0.13,0.14,0.14,0.15,0.14,
  0.13,0.14,0.13,0.12,0.13,0.14,0.13,0.12,0.13,0.14,0.13,0.12,0.12,0.13,0.12,0.13,0.12,0.12,0.13,0.12,0.13,0.12,0.13,0.12,0.13,
  0.14,0.15,0.17,0.18,0.09,0.09,0.1,0.1,0.1,0.11,0.1,0.1,0.11,0.1,0.1,0.1,0.11,0.1,0.11,0.12,0.12,0.11,0.12,0.11,0.1];
const ksGreenC = [0.02,0.02,0.02,0.02,0.02,0.02,0.02,0.02,0.3,0.35,0.25,0.3,0.18,0.32,0.37,0.28,0.27,0.3,0.33,0.33,0.34,0.35,0.36,0.2,0.45,
  0.42,0.4,0.41,0.4,0.39,0.38,0.4,0.39,0.4,0.38,0.4,0.41,0.33,0.48,0.42,0.41,0.4,0.39,0.41,0.38,0.37,0.36,0.38,0.37,0.47,
  0.42,0.4,0.41,0.4,0.39,0.42,0.4,0.41,0.4,0.41,0.42,0.4,0.41,0.42,0.41,0.42,0.41,0.42,0.43,0.42,0.44,0.41,0.42,0.43,0.42,
  0.41,0.42,0.44,0.47,0.4,0.41,0.4,0.38,0.37,0.5,0.47,0.4,0.4,0.39,0.4,0.39,0.4,0.4,0.39,0.4,0.4,0.39,0.4,0.41,0.4];
const ksBlueC = [0.02,0.02,0.02,0.02,0.02,0.02,0.02,0.02,0.22,0.45,0.47,0.45,0.38,0.3,0.55,0.5,0.52,0.55,0.57,0.6,0.6,0.62,0.63,0.45,0.7,
  0.72,0.68,0.65,0.7,0.75,0.76,0.7,0.68,0.67,0.69,0.7,0.71,0.72,0.7,0.69,0.68,0.64,0.62,0.7,0.72,0.74,0.76,0.75,0.74,0.75,
  0.74,0.73,0.74,0.72,0.73,0.72,0.71,0.72,0.73,0.72,0.71,0.73,0.72,0.71,0.73,0.72,0.73,0.74,0.76,0.77,0.62,0.65,0.74,0.75,0.75,
  0.75,0.76,0.76,0.77,0.78,0.72,0.68,0.69,0.7,0.73,0.74,0.73,0.72,0.72,0.71,0.72,0.72,0.71,0.72,0.71,0.71,0.7,0.7,0.71,0.7];
const klC = [5,5,5,5,5,5,5,5,5,5,5.2,5.5,6,6.2,6.3,7,7.2,7.4,8.2,9.4,10.5,11,12,12.5,13.5,
  14.8,14.5,13.6,14,14.6,15.2,15.5,15.7,16.3,17,17.2,17.3,17,16.2,15.5,16.5,16,16.2,15.5,14.6,15.2,16,16.2,16.1,15.8,
  15,14.8,15,14.9,14.5,14.8,15.1,15.6,15.8,15.5,15,15.2,15.1,15,15,15,14.9,15,14.8,15,15.2,15.4,15.5,15.3,15.6,
  15.8,16.2,16.5,16.8,16,15.5,15.6,15.4,15.5,15.3,15.2,15.2,15,14.9,14.8,14.8,15,15.1,15.2,15.2,15.3,15.2,15.3,15.4,15.3];
const clRedC = [1,1,1,1,1,1,1,1,1,1,0.97,1,1,1,1,1,1,1,1,1,1,1,1,1,1,
  1,1,1,1,1,1,1,1,1,1,1,1,1,1,1,1,1,1,1,1,1,1,1,1,1,
  1,1,1,1,1,1,1,1,1,1,1,1,1,1,1,1,1,1,1,1,1,1,1,1,1,
  1,1,1,1,1,1,1,1,1,1,1,1,1,1,1,1,1,1,1,1,1,1,1,1,1];
const clGreenC = [-0.96,-0.96,-0.95,-0.92,-0.75,-0.62,-0.6,-0.65,-0.55,-0.45,-0.38,-0.6,-0.68,-0.6,-0.5,-0.35,-0.48,-0.52,-0.55,-0.85,-0.78,-0.76,-0.75,-0.8,-0.76,
  -0.82,-0.82,-0.83,-0.85,-0.84,-0.9,-0.94,-0.88,-0.82,-0.78,-0.76,-0.77,-0.78,-0.79,-0.78,-0.77,-0.78,-0.79,-0.78,-0.77,-0.78,-0.75,-0.73,-0.72,-0.72,
  -0.7,-0.7,-0.7,-0.68,-0.66,-0.65,-0.66,-0.68,-0.68,-0.67,-0.68,-0.68,-0.69,-0.69,-0.68,-0.7,-0.7,-0.7,-0.71,-0.7,-0.71,-0.7,-0.71,-0.71,-0.71,
  -0.72,-0.72,-0.71,-0.72,-0.72,-0.71,-0.72,-0.72,-0.72,-0.73,-0.72,-0.73,-0.72,-0.73,-0.72,-0.72,-0.73,-0.72,-0.72,-0.73,-0.72,-0.72,-0.73,-0.72,-0.72];
const clBlueC = [-0.95,-0.95,-0.95,-0.93,-0.8,-0.65,-0.66,-0.65,-0.7,-0.82,-0.9,-0.82,-0.88,-0.8,-0.72,-0.7,-0.7,-0.72,-0.7,-0.92,-0.95,-0.92,-0.9,-0.9,-0.9,
  -0.89,-0.89,-0.88,-0.88,-0.88,-0.89,-0.88,-0.88,-0.88,-0.88,-0.88,-0.88,-0.88,-0.88,-0.88,-0.88,-0.88,-0.88,-0.88,-0.88,-0.88,-0.88,-0.88,-0.88,-0.88,
  -0.88,-0.88,-0.88,-0.88,-0.88,-0.88,-0.88,-0.88,-0.88,-0.88,-0.88,-0.88,-0.88,-0.88,-0.88,-0.88,-0.88,-0.88,-0.88,-0.88,-0.88,-0.88,-0.88,-0.88,-0.88,
  -0.88,-0.88,-0.88,-0.88,-0.88,-0.88,-0.88,-0.88,-0.88,-0.88,-0.88,-0.88,-0.88,-0.88,-0.88,-0.88,-0.88,-0.88,-0.88,-0.88,-0.88,-0.88,-0.88,-0.88,-0.88];
const gradExpC = [-0.3,-0.9,-1,-0.8,-1.2,-1.3,-1.1,-1.6,-1.4,-1.8,-1.5,-1.9,-2.2,-1.7,-2,-1.3,-2.4,-2.1,-2.6,-1.9,-2.3,-2.8,-2.2,-2,-2.5,
  -2.1,-2.8,-2.4,-3.2,-2.6,-2.9,-2.5,-3.1,-2.8,-3.3,-2.7,-3,-3.5,-1.8,-2.9,-2.4,-3.2,-3,-3.6,-2.8,-3.3,-3.1,-3.7,-1.9,-3,
  -3.5,-4.2,-3,-3.7,-3.3,-2.8,-3.9,-3.2,-3.6,-4,-3.1,-3.4,-3.8,-4.2,-3.3,-3.6,-3,-3.9,-3.5,-2.4,-3.7,-3.3,-4,-3.5,-3.2,
  -3.4,-3.9,-3,-3.5,-4.1,-3.7,-3.2,-3.8,-3.4,-4,-3.1,-3.6,-3.9,-2.7,-3.5,-3.3,-3.8,-3.2,-3.7,-3.4,-4,-3.1,-3.6,-3.3,-3.9,
  -3.6,-4.6,-3.3,-3.8,-3.2,-3.7,-3.4,-4,-2.9,-3.5,-3.8,-3.2,-3.6,-4.1,-3.3,-3.7,-3,-3.5,-3.9,-4.2,-3.4,-3.8,-4,-3.5,-3.7,
  -4.1,-3.8,-3.5,-3.1,-3.9,-3.6,-3.3,-3.8,-3.2,-3.7,-4.1,-3.4,-3.9,-3.5,-3.2,-3.7,-3.3,-3.8,-2.9,-3.6,-3.4,-3.9,-3.3,-3.7,-3.5,
  -3.8,-3.3,-3,-3.6,-3.9,-3.4,-3.1,-3.7,-3.5,-4,-3.3,-2.7,-3.6,-3.8,-3.4,-3.2,-3.7,-3.5,-3.9,-3.3,-3.6,-2.9,-3.8,-3.4,-3.7,
  -3.5,-3.9,-3.3,-3,-3.7,-3.4,-3.8,-3.2,-3.6,-3.3,-3.9,-3.5,-3.1,-3.7,-3.4,-3.8,-3,-3.6,-3.3,-3.7,-3.5,-3.1,-3.9,-3.6,-3.3];

// ---------- sigma = 0.2 ----------
const nRedD = [1,1,1,1,0.99,0.98,0.97,0.96,0.95,0.93,0.91,0.9,0.92,0.93,0.93,0.92,0.91,0.9,0.92,0.93,0.92,0.92,0.93,0.93,0.92,
  0.92,0.92,0.93,0.92,0.92,0.92,0.92,0.93,0.92,0.92,0.92,0.92,0.92,0.93,0.92,0.92,0.92,0.92,0.92,0.92,0.92,0.92,0.93,0.92,0.92,
  0.92,0.92,0.93,0.95,0.96,0.95,0.92,0.92,0.92,0.92,0.92,0.92,0.92,0.92,0.92,0.92,0.92,0.92,0.92,0.92,0.92,0.92,0.92,0.92,0.92,
  0.92,0.92,0.92,0.92,0.92,0.92,0.92,0.92,0.92,0.92,0.92,0.92,0.92,0.92,0.92,0.92,0.92,0.92,0.92,0.92,0.92,0.92,0.91,0.91,0.91];
const nGreenD = [0,0.01,0.02,0.03,0.01,-0.04,0,0.08,0.28,0.22,0.18,0.12,0.1,0.15,0.14,0.22,0.2,0.18,0.16,0.17,0.15,0.13,0.14,0.15,0.14,
  0.14,0.15,0.13,0.14,0.13,0.12,0.13,0.14,0.13,0.12,0.13,0.12,0.13,0.12,0.12,0.13,0.12,0.13,0.12,0.13,0.12,0.12,0.13,0.12,0.12,
  0.12,0.11,0.12,0.11,0.12,0.11,0.11,0.12,0.11,0.11,0.12,0.11,0.11,0.12,0.11,0.12,0.11,0.12,0.11,0.12,0.12,0.11,0.12,0.12,0.12,
  0.12,0.13,0.12,0.13,0.12,0.13,0.13,0.12,0.13,0.13,0.13,0.14,0.13,0.13,0.14,0.13,0.14,0.14,0.13,0.14,0.14,0.14,0.14,0.14,0.14];
const nBlueD = [0,-0.03,-0.08,-0.14,-0.2,-0.26,-0.32,-0.36,-0.4,-0.42,-0.46,-0.5,-0.38,-0.32,-0.42,-0.44,-0.45,-0.46,-0.48,-0.44,-0.42,-0.43,-0.42,-0.43,-0.42,
  -0.42,-0.43,-0.42,-0.43,-0.42,-0.43,-0.43,-0.42,-0.43,-0.43,-0.42,-0.43,-0.43,-0.43,-0.42,-0.42,-0.42,-0.42,-0.42,-0.42,-0.42,-0.42,-0.42,-0.42,-0.42,
  -0.42,-0.42,-0.42,-0.42,-0.42,-0.42,-0.42,-0.43,-0.42,-0.43,-0.43,-0.42,-0.43,-0.43,-0.42,-0.42,-0.43,-0.42,-0.42,-0.42,-0.42,-0.42,-0.42,-0.42,-0.42,
  -0.42,-0.42,-0.42,-0.42,-0.42,-0.43,-0.42,-0.42,-0.43,-0.42,-0.42,-0.42,-0.42,-0.43,-0.43,-0.43,-0.43,-0.43,-0.43,-0.44,-0.44,-0.44,-0.45,-0.45,-0.45];
const kdRedD = [0.47,0.42,0.41,0.46,0.48,0.45,0.44,0.47,0.5,0.55,0.5,0.48,0.5,0.52,0.48,0.5,0.55,0.5,0.52,0.5,0.49,0.51,0.5,0.52,0.49,
  0.5,0.51,0.55,0.5,0.49,0.51,0.5,0.48,0.51,0.53,0.5,0.52,0.49,0.5,0.51,0.49,0.5,0.48,0.5,0.51,0.5,0.5,0.51,0.49,0.5,
  0.5,0.51,0.5,0.5,0.49,0.5,0.51,0.5,0.5,0.51,0.5,0.49,0.5,0.51,0.5,0.5,0.49,0.51,0.5,0.5,0.51,0.5,0.49,0.5,0.5,
  0.51,0.5,0.5,0.5,0.51,0.49,0.5,0.5,0.51,0.5,0.51,0.5,0.5,0.51,0.5,0.5,0.51,0.5,0.5,0.51,0.5,0.51,0.5,0.51,0.51];
const kdGreenD = [0.44,0.38,0.35,0.36,0.34,0.3,0.28,0.32,0.34,0.3,0.28,0.33,0.32,0.3,0.31,0.34,0.32,0.3,0.31,0.33,0.3,0.31,0.32,0.3,0.31,
  0.32,0.31,0.38,0.3,0.31,0.33,0.29,0.31,0.3,0.32,0.28,0.31,0.3,0.29,0.31,0.3,0.29,0.31,0.3,0.3,0.31,0.3,0.28,0.3,0.3,
  0.3,0.31,0.3,0.3,0.29,0.34,0.3,0.3,0.31,0.3,0.3,0.29,0.3,0.31,0.3,0.3,0.3,0.31,0.3,0.29,0.3,0.3,0.31,0.3,0.3,
  0.3,0.3,0.31,0.3,0.3,0.3,0.29,0.3,0.31,0.3,0.3,0.3,0.31,0.3,0.3,0.3,0.3,0.29,0.3,0.3,0.3,0.3,0.3,0.3,0.3];
const kdBlueD = [0.4,0.36,0.33,0.3,0.24,0.22,0.2,0.2,0.18,0.19,0.15,0.17,0.16,0.19,0.2,0.17,0.2,0.18,0.21,0.2,0.2,0.19,0.2,0.21,0.2,
  0.2,0.19,0.2,0.17,0.2,0.19,0.2,0.12,0.2,0.21,0.2,0.19,0.21,0.2,0.2,0.18,0.2,0.2,0.19,0.2,0.21,0.2,0.2,0.19,0.2,
  0.2,0.21,0.2,0.2,0.21,0.2,0.2,0.21,0.2,0.21,0.2,0.21,0.21,0.2,0.21,0.21,0.2,0.21,0.21,0.21,0.2,0.21,0.21,0.21,0.21,
  0.21,0.21,0.21,0.2,0.21,0.21,0.21,0.21,0.21,0.21,0.21,0.21,0.21,0.21,0.21,0.21,0.21,0.21,0.21,0.21,0.21,0.21,0.21,0.21,0.21];
const ksRedD = [0.02,0.02,0.02,0.02,0.08,0.25,0.2,0.22,0.18,0.15,0.05,0.02,0.3,0.4,0.85,0.45,0.4,0.3,0.25,0.05,0.02,0.1,0.05,0.08,0.1,
  0.05,0.3,0,0.08,0.12,0.1,0.13,0.12,0.15,0.12,0.3,0.25,0.15,0.12,0.13,0.1,0.12,0.14,0.08,0.12,0.02,0.13,0.12,0.14,0.13,
  0.15,0.1,0.1,0.11,0.1,0.1,0.12,0.09,0.1,0.1,0.11,0.1,0.09,0.08,0.1,0.09,0.1,0.1,0.11,0.1,0.08,0.03,0.1,0.1,0.12,
  0.14,0.17,0.2,0.22,0.1,0.1,0.11,0.12,0.1,0.12,0.13,0.12,0.13,0.14,0.05,0.06,0.08,0.07,0.1,0.1,0.12,0.09,0.1,0.09,0.08];
const ksGreenD = [0.02,0.02,0.02,0.02,0.02,0.02,0.3,0.28,0.25,0.3,0.45,0.4,0.42,0.55,0.85,0.65,0.25,0.3,0.22,0.5,0.45,0.48,0.42,0.5,0.45,
  0.42,0.45,0.4,0.35,0.42,0.45,0.38,0.32,0.3,0.35,0.38,0.4,0.3,0.33,0.38,0.4,0.36,0.38,0.35,0.39,0.37,0.42,0.5,0.35,0.33,
  0.38,0.39,0.37,0.36,0.38,0.37,0.36,0.38,0.37,0.36,0.35,0.37,0.38,0.4,0.38,0.39,0.41,0.4,0.42,0.4,0.41,0.43,0.45,0.5,0.42,
  0.45,0.5,0.44,0.35,0.44,0.45,0.43,0.44,0.43,0.45,0.44,0.45,0.43,0.5,0.44,0.42,0.4,0.41,0.42,0.41,0.4,0.42,0.41,0.42,0.43];
const ksBlueD = [0.02,0.02,0.02,0.02,0.02,0.02,0.35,0.4,0.38,0.3,0.55,0.58,0.45,0.62,0.75,0.8,0.68,0.62,0.6,0.5,0.55,0.5,0.58,0.5,0.62,
  0.8,0.65,0.68,0.72,0.7,0.68,0.55,0.6,0.72,0.78,0.8,0.68,0.62,0.65,0.7,0.72,0.78,0.8,0.83,0.82,0.85,0.78,0.72,0.7,0.68,
  0.68,0.67,0.66,0.68,0.65,0.67,0.66,0.65,0.68,0.66,0.65,0.66,0.65,0.67,0.85,0.82,0.8,0.73,0.72,0.71,0.72,0.73,0.74,0.73,0.75,
  0.76,0.85,0.82,0.78,0.76,0.75,0.76,0.75,0.74,0.75,0.73,0.72,0.72,0.7,0.68,0.68,0.69,0.68,0.69,0.7,0.68,0.7,0.71,0.7,0.71];
const klD = [5,5,5,5,5,5,5,5,5,5,5.2,5.5,6,6.5,8,9.5,14,12,11,12,13,13.5,12.5,13,15.5,
  13,14,14.5,13,11,13,12.5,12.8,11.5,10.5,14,16,15.8,15.2,14.5,14,13.2,12.5,14,15,15.2,15.5,15.8,15.6,15.8,
  16,15.5,14.8,14.3,14,14.2,13.5,13.2,13,13.6,14.5,15,14.8,15.2,15.5,15.6,15.8,15.5,16,16.2,15.8,16.3,16.5,17,17.2,
  18,18.6,18,17.2,17,17.1,17,17.2,17.3,17.5,17.6,17.4,17.5,17.2,16.8,16.5,16.8,16.5,16.2,16,15.8,16,16.2,16,16];
const clRedD = [1,1,1,1,1,1,1,1,1,1,0.97,0.6,0.72,0.72,0.75,0.8,1,1,1,1,1,1,1,1,1,
  1,1,1,1,1,1,1,1,1,1,1,1,1,1,1,1,1,1,1,1,1,1,1,1,1,
  1,1,1,1,1,1,1,1,1,1,1,1,1,1,1,1,1,1,1,1,1,1,1,1,1,
  1,1,1,1,1,1,1,1,1,1,1,1,1,1,1,1,1,1,1,1,1,1,1,1,1];
const clGreenD = [-0.95,-0.96,-0.94,-0.92,-0.7,-0.58,-0.52,-0.46,-0.42,-0.2,-0.3,-0.95,-0.96,-0.96,-0.95,-0.96,-0.95,-0.96,-0.95,-0.94,-0.95,-0.93,-0.9,-0.88,-0.86,
  -0.85,-0.84,-0.83,-0.8,-0.78,-0.76,-0.74,-0.73,-0.72,-0.72,-0.7,-0.71,-0.7,-0.7,-0.71,-0.7,-0.7,-0.69,-0.7,-0.69,-0.68,-0.67,-0.66,-0.65,-0.64,
  -0.65,-0.64,-0.66,-0.68,-0.7,-0.7,-0.69,-0.7,-0.7,-0.69,-0.68,-0.67,-0.66,-0.65,-0.66,-0.65,-0.64,-0.65,-0.64,-0.63,-0.62,-0.63,-0.62,-0.63,-0.62,
  -0.62,-0.63,-0.62,-0.62,-0.63,-0.62,-0.63,-0.62,-0.63,-0.64,-0.65,-0.66,-0.68,-0.7,-0.72,-0.74,-0.75,-0.73,-0.72,-0.74,-0.73,-0.72,-0.73,-0.72,-0.72];
const clBlueD = [-0.95,-0.95,-0.93,-0.9,-0.7,-0.55,-0.5,-0.48,-0.52,-0.92,-0.6,-0.4,-0.6,-0.7,-0.72,-0.74,-0.75,-0.76,-0.75,-0.76,-0.75,-0.74,-0.72,-0.7,-0.72,
  -0.72,-0.7,-0.75,-0.8,-0.88,-0.88,-0.87,-0.88,-0.89,-0.9,-0.88,-0.88,-0.87,-0.88,-0.87,-0.88,-0.87,-0.88,-0.87,-0.87,-0.88,-0.87,-0.88,-0.87,-0.88,
  -0.87,-0.87,-0.88,-0.87,-0.87,-0.88,-0.87,-0.87,-0.88,-0.87,-0.87,-0.87,-0.88,-0.87,-0.87,-0.87,-0.87,-0.87,-0.86,-0.86,-0.85,-0.84,-0.85,-0.84,-0.85,
  -0.86,-0.9,-0.92,-0.92,-0.9,-0.9,-0.89,-0.89,-0.88,-0.88,-0.88,-0.88,-0.88,-0.88,-0.88,-0.88,-0.88,-0.88,-0.88,-0.88,-0.88,-0.88,-0.88,-0.88,-0.88];
const gradExpD = [-1.3,-1.8,-2,-1.6,-2.4,-1.9,-2.6,-3.3,-2.2,-2.8,-1.6,-2.3,-2,-2.9,-3.1,-2.7,-3,-2.6,-2.8,-3.2,-2.5,-3,-1.7,-2.8,-0.05,
  -2.6,-2.2,-1.8,-3.3,-1.6,-1.4,-2.5,-3,-2.2,-2.7,-2.4,-2,-2.8,-3.2,-2.6,-3,-2.7,-3.5,-2.4,-3.1,-3.8,-2.5,-2.8,-2.2,-3,
  -2.6,-3,-2.7,-1.9,-2.8,-3.2,-2.5,-2.9,-3.3,-2.6,-2.2,-3,-2.7,-3.4,-2.4,-2.9,-3.1,-2.6,-2,-2.8,-3.5,-2.7,-2.5,-3,-2.6,
  -2.8,-3.1,-2.3,-2.9,-3.3,-2.5,-3.7,-2.7,-2.9,-2.5,-2.6,-3,-2.4,-2.8,-3.2,-2.1,-2.7,-2.9,-2.2,-3,-2.6,-2.8,-2.2,-3.2,-2.3,
  -2.2,-2.9,-3.1,-2.6,-2.8,-3.2,-2.5,-3,-2.7,-3.3,-2.9,-2.6,-3.1,-2.8,-2.4,-3.2,-2.7,-2.9,-3,-2.5,-2.8,-2.3,-3.1,-2.6,-2.9,
  -2.7,-2.2,-3,-2.5,-2.8,-3.1,-2.6,-2.9,-2.3,-3.2,-2.7,-2.4,-3,-2.6,-2.9,-2.2,-2.8,-3.1,-2.5,-2.9,-2.7,-2.3,-3,-2.6,-2.1,
  -2.4,-2.8,-2,-2.6,-2.3,-3,-2.9,-3.2,-2.8,-3.1,-2.9,-3.3,-2.7,-3,-2.8,-3.2,-2.6,-3,-2.9,-3.1,-2.7,-2.4,-3,-2.8,-3.1,
  -2.9,-2.7,-3.2,-2.5,-2.9,-3.1,-2.8,-2.6,-3,-2.4,-2.9,-3.2,-2.7,-3,-2.2,-2.8,-3.1,-2.6,-2.9,-3.3,-2.7,-2.4,-3,-2.9,-3.2];

// tick exponents of the log-scaled gradient subplot in each panel
const gradTickExps = [[-10, -5, 0], [-10, -5, 0], [-5, 0], [-4, -2, 0]];

// ---------- layout ----------
const colors = { blue: "#0000ff", green: "#008000", red: "#ff0000" };
const panelOrigins = [[75, 33], [702, 33], [75, 638], [702, 638]];
const frameW = 515, frameH = 53, rowPitch = 87;

const panels = [
  { N: [nBlueA, nGreenA, nRedA], Kd: [kdBlueA, kdGreenA, kdRedA], Ks: [ksBlueA, ksGreenA, ksRedA], kl: [klA], Cl: [clBlueA, clGreenA, clRedA], grad: gradExpA },
  { N: [nBlueB, nGreenB, nRedB], Kd: [kdBlueB, kdGreenB, kdRedB], Ks: [ksBlueB, ksGreenB, ksRedB], kl: [klB], Cl: [clBlueB, clGreenB, clRedB], grad: gradExpB },
  { N: [nBlueC, nGreenC, nRedC], Kd: [kdBlueC, kdGreenC, kdRedC], Ks: [ksBlueC, ksGreenC, ksRedC], kl: [klC], Cl: [clBlueC, clGreenC, clRedC], grad: gradExpC },
  { N: [nBlueD, nGreenD, nRedD], Kd: [kdBlueD, kdGreenD, kdRedD], Ks: [ksBlueD, ksGreenD, ksRedD], kl: [klD], Cl: [clBlueD, clGreenD, clRedD], grad: gradExpD }
];

const rows = [
  { key: "N",  domain: [-1, 1], ticks: [-1, 0, 1], label: [["N", 0]] },
  { key: "Kd", domain: [0, 1],  ticks: [0, 0.5, 1], label: [["K", 0], ["d", 1]] },
  { key: "Ks", domain: [0, 1],  ticks: [0, 0.5, 1], label: [["K", 0], ["s", 1]] },
  { key: "kl", domain: [0, 20], ticks: [0, 10, 20], label: [["k", 0], ["l", 1]] },
  { key: "Cl", domain: [-1, 1], ticks: [-1, 0, 1], label: [["C", 0], ["l", 1]] },
  { key: "grad" }
];

const seriesColors = [colors.blue, colors.green, colors.red];
const svg = d3.select("#chart");

panels.forEach((panel, pi) => {
  const [ox, oy] = panelOrigins[pi];
  const x = d3.scaleLinear().domain([0, 5000]).range([0, frameW]);

  // title
  const title = svg.append("text")
    .attr("x", ox + frameW / 2).attr("y", oy - 15)
    .attr("text-anchor", "middle").style("font-size", "15.5px").style("word-spacing", "1px");
  title.append("tspan").text("\u03c3 = " + sigmas[pi] + " \u03bb");
  title.append("tspan").attr("dy", 4).style("font-size", "11px").text("d");
  title.append("tspan").attr("dy", -4).text(" = 1e-007");

  rows.forEach((row, ri) => {
    const g = svg.append("g").attr("transform", `translate(${ox},${oy + ri * rowPitch})`);
    const isLog = row.key === "grad";
    let y, ticks;
    if (isLog) {
      const exps = gradTickExps[pi];
      y = d3.scaleLog().domain([Math.pow(10, exps[0]), 1]).range([frameH, 0]);
      ticks = exps.map(e => Math.pow(10, e));
    } else {
      y = d3.scaleLinear().domain(row.domain).range([frameH, 0]);
      ticks = row.ticks;
    }

    // dashed grid
    const grid = g.append("g").attr("stroke", "#333").attr("stroke-width", 0.9)
      .attr("stroke-dasharray", "6,4");
    grid.selectAll("line.v").data(xTicks.slice(0, 4)).join("line")
      .attr("x1", d => x(d)).attr("x2", d => x(d)).attr("y1", 0).attr("y2", frameH);
    grid.selectAll("line.h").data(ticks.slice(1, -1)).join("line")
      .attr("x1", 0).attr("x2", frameW).attr("y1", d => y(d)).attr("y2", d => y(d));

    // axes, ticks pointing inward
    const xAxis = g.append("g").attr("transform", `translate(0,${frameH})`)
      .call(d3.axisBottom(x).tickValues(xTicks).tickSize(-4).tickPadding(5)
        .tickFormat(d3.format("d")));
    g.append("g").call(d3.axisTop(x).tickValues(xTicks).tickSize(-4).tickFormat(""));
    const yAxis = g.append("g")
      .call(d3.axisLeft(y).tickValues(ticks).tickSize(-4).tickPadding(5)
        .tickFormat(d => isLog ? "" : String(d)));
    g.append("g").attr("transform", `translate(${frameW},0)`)
      .call(d3.axisRight(y).tickValues(ticks).tickSize(-4).tickFormat(""));
    g.selectAll(".domain").remove();
    g.selectAll(".tick line").attr("stroke", "#000");
    xAxis.selectAll("text").style("font-size", "16px").style("font-family", "DejaVu Serif, serif");
    yAxis.selectAll("text").style("font-size", "15px").style("font-family", "DejaVu Serif, serif");

    if (isLog) {
      yAxis.selectAll(".tick").each(function (d) {
        const t = d3.select(this).select("text").attr("dy", "0.55em");
        t.append("tspan").text("10");
        t.append("tspan").attr("dy", "-0.55em").style("font-size", "10px")
          .text(String(Math.round(Math.log10(d))));
      });
    }

    // data points
    if (isLog) {
      const vals = panel.grad.map(e => Math.pow(10, e));
      g.append("g").attr("fill", colors.blue).selectAll("circle")
        .data(vals).join("circle")
        .attr("cx", (d, i) => x(gradIterations[i])).attr("cy", d => y(d)).attr("r", 2.3);
    } else {
      const series = panel[row.key];
      const cols = series.length === 1 ? [colors.blue] : seriesColors;
      series.forEach((vals, si) => {
        const pts = vals.map((v, i) => [x(iterations[i]), y(v)]);
        // neighbouring markers that sit close together merge into a band
        const links = d3.pairs(pts).filter(([a, b]) => Math.abs(a[1] - b[1]) < 2.6);
        const sg = g.append("g");
        sg.append("g").attr("stroke", cols[si]).attr("stroke-width", 4.6)
          .selectAll("line").data(links).join("line")
          .attr("x1", d => d[0][0]).attr("y1", d => d[0][1])
          .attr("x2", d => d[1][0]).attr("y2", d => d[1][1]);
        sg.append("g").attr("fill", cols[si]).selectAll("circle")
          .data(pts).join("circle")
          .attr("cx", d => d[0]).attr("cy", d => d[1]).attr("r", 2.6);
      });
    }

    // frame
    g.append("rect").attr("width", frameW).attr("height", frameH)
      .attr("fill", "none").attr("stroke", "#000").attr("stroke-width", 1.3);

    // y label
    const lx = isLog ? -57 : -40;
    const lab = g.append("text")
      .attr("transform", `translate(${lx},${frameH / 2}) rotate(-90)`)
      .attr("text-anchor", "middle").style("font-size", "16px");
    if (isLog) {
      lab.style("font-size", "14px").text("||\u2009\u2207\u00d7\u2009||");
    } else {
      lab.style("font-style", "italic");
      row.label.forEach(([s, sub]) => {
        const ts = lab.append("tspan").text(s);
        if (sub) ts.attr("dy", 4).style("font-size", "12px");
      });
    }
  });
});
</script>
</body>
</html>
